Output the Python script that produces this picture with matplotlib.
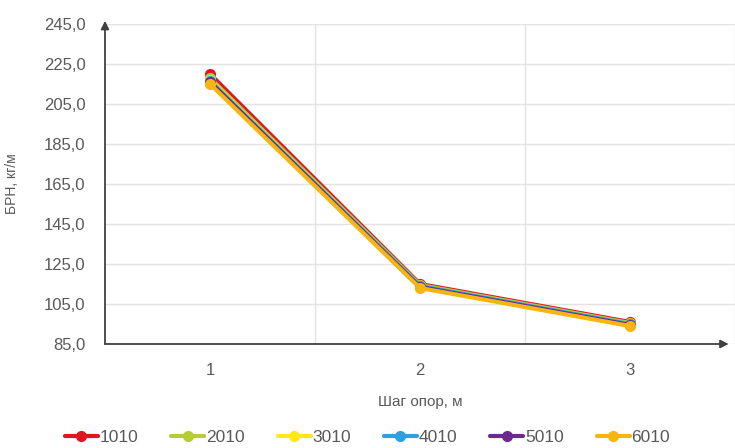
import matplotlib
matplotlib.use("Agg")
import matplotlib.pyplot as plt
from matplotlib.ticker import FuncFormatter, FixedLocator

plt.rcParams["font.family"] = ["Liberation Sans", "DejaVu Sans"]

steps = [1, 2, 3]
series_names = ["1010", "2010", "3010", "4010", "5010", "6010"]
v1010 = [220.0, 115.0, 96.0]
v2010 = [218.0, 114.5, 95.5]
v3010 = [217.0, 114.0, 95.0]
v4010 = [216.5, 114.0, 95.0]
v5010 = [216.0, 113.5, 94.5]
v6010 = [215.0, 113.0, 94.0]
values = [v1010, v2010, v3010, v4010, v5010, v6010]
colors = ["#E0161E", "#B5CC34", "#FFE81A", "#2E9FE0", "#6A2A8E", "#F7B511"]

fig = plt.figure(figsize=(7.35, 4.48), dpi=100)
ax = fig.add_axes([105 / 735, 1 - 344 / 448, 630 / 735, 320 / 448])

for name, vals, c in zip(series_names, values, colors):
    ax.plot(steps, vals, color=c, linewidth=3, marker="o", markersize=7,
            label=name, solid_capstyle="round", clip_on=False)

ax.set_xlim(0.5, 3.5)
ax.set_ylim(85, 245)
ax.yaxis.set_major_locator(FixedLocator([85, 105, 125, 145, 165, 185, 205, 225, 245]))
ax.yaxis.set_major_formatter(FuncFormatter(lambda v, p: f"{v:.1f}".replace(".", ",")))
ax.set_xticks(steps)
ax.xaxis.set_minor_locator(FixedLocator([1.5, 2.5, 3.5]))
ax.grid(True, axis="y", color="#e3e3e3", linewidth=1)
ax.grid(True, axis="x", which="minor", color="#e3e3e3", linewidth=1)
ax.set_axisbelow(True)
for s in ax.spines.values():
    s.set_visible(False)
ax.tick_params(axis="both", which="both", length=0, labelsize=12, labelcolor="#595959")
ax.tick_params(axis="x", pad=14)
ax.tick_params(axis="y", pad=14)

# axis arrows
ax.annotate("", xy=(0, 1.01), xytext=(0, 0), xycoords="axes fraction",
            arrowprops=dict(arrowstyle="-|>", color="#404040", lw=1.3,
                            mutation_scale=12, shrinkA=0, shrinkB=0))
ax.annotate("", xy=(0.99, 0), xytext=(0, 0), xycoords="axes fraction",
            arrowprops=dict(arrowstyle="-|>", color="#404040", lw=1.3,
                            mutation_scale=12, shrinkA=0, shrinkB=0))

ax.set_xlabel("Шаг опор, м", fontsize=11, color="#595959", labelpad=12)
fig.text(12 / 735, 1 - 184 / 448, "БРН, кг/м", rotation=90, fontsize=10,
         color="#595959", ha="center", va="center")

leg = fig.legend(loc="center", bbox_to_anchor=(0.5, 1 - 437 / 448), ncol=6,
                 frameon=False, fontsize=12.5, handlelength=1.9, handletextpad=0.1,
                 columnspacing=1.9)
for t in leg.get_texts():
    t.set_color("#595959")

fig.savefig("out.png", dpi=100)
